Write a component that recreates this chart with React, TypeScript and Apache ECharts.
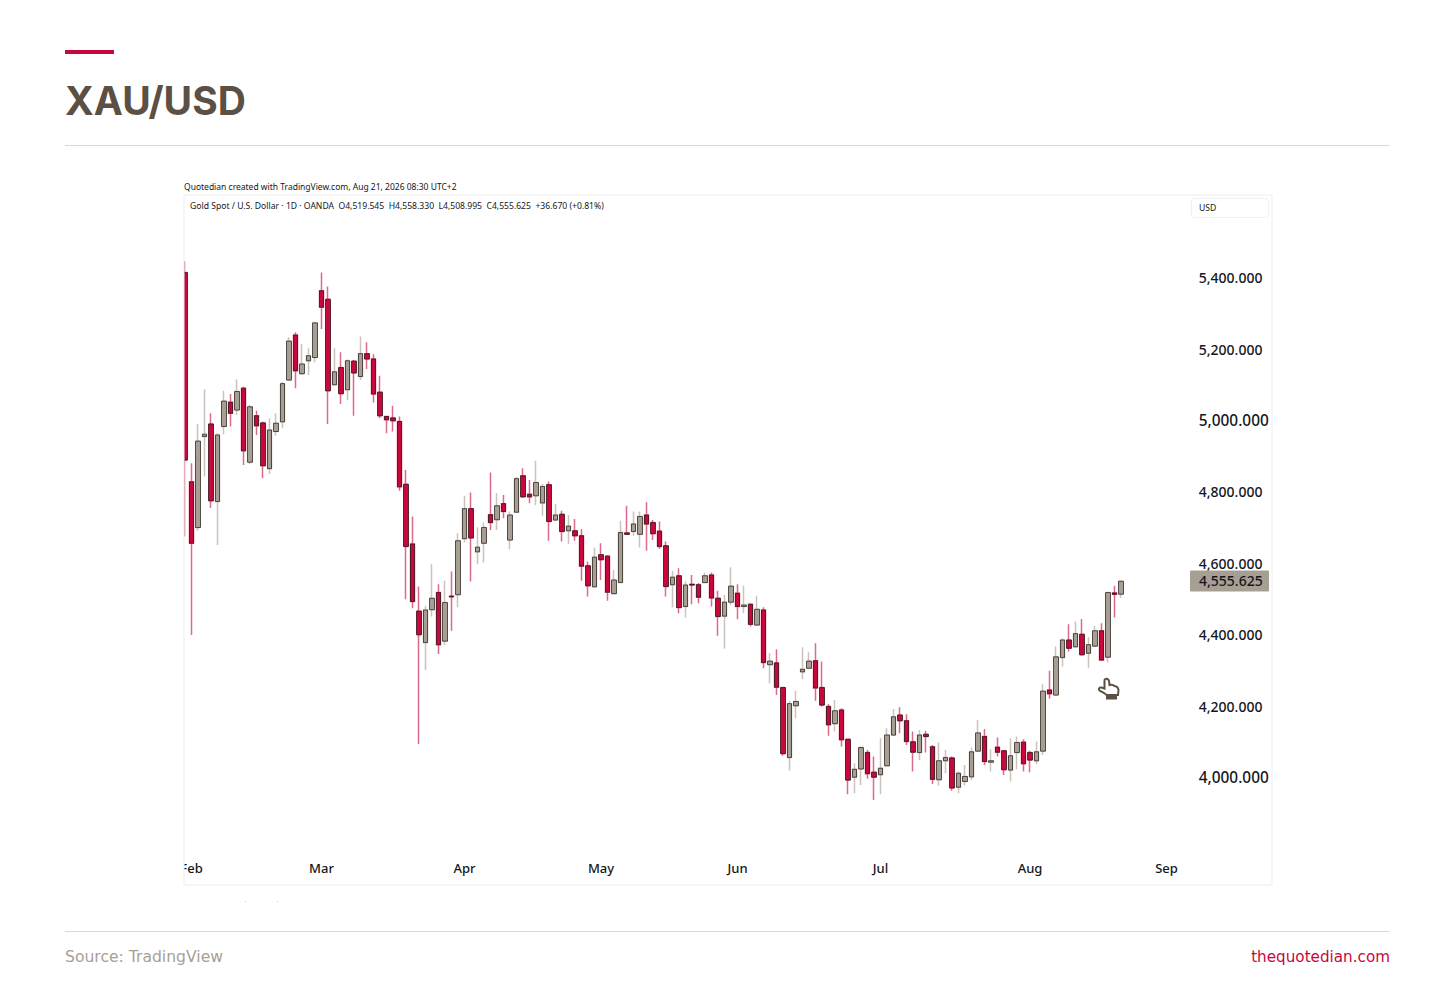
import React, { useEffect, useRef } from "react";
import * as echarts from "echarts";

const categories = [
  "01-30",
  "02-02","02-03","02-04","02-05","02-06","02-09","02-10","02-11","02-12","02-13","02-16","02-17","02-18","02-19","02-20","02-23","02-24","02-25","02-26","02-27",
  "03-02","03-03","03-04","03-05","03-06","03-09","03-10","03-11","03-12","03-13","03-16","03-17","03-18","03-19","03-20","03-23","03-24","03-25","03-26","03-27","03-30","03-31",
  "04-01","04-02","04-06","04-07","04-08","04-09","04-10","04-13","04-14","04-15","04-16","04-17","04-20","04-21","04-22","04-23","04-24","04-27","04-28","04-29","04-30",
  "05-01","05-04","05-05","05-06","05-07","05-08","05-11","05-12","05-13","05-14","05-15","05-18","05-19","05-20","05-21","05-22","05-25","05-26","05-27","05-28","05-29",
  "06-01","06-02","06-03","06-04","06-05","06-08","06-09","06-10","06-11","06-12","06-15","06-16","06-17","06-18","06-19","06-22","06-23","06-24","06-25","06-26","06-29","06-30",
  "07-01","07-02","07-03","07-06","07-07","07-08","07-09","07-10","07-13","07-14","07-15","07-16","07-17","07-20","07-21","07-22","07-23","07-24","07-27","07-28","07-29","07-30","07-31",
  "08-03","08-04","08-05","08-06","08-07","08-10","08-11","08-12","08-13","08-14","08-17","08-18","08-19","08-20","08-21","08-24","08-25","08-26","08-27","08-28","08-31",
  "09-01","09-02","09-03","09-04",
];

const monthLabels: Record<string, string> = {
  "02-02": "Feb", "03-02": "Mar", "04-01": "Apr", "05-01": "May",
  "06-01": "Jun", "07-01": "Jul", "08-03": "Aug", "09-01": "Sep",
};

const priceTicks = [4000, 4200, 4400, 4600, 4800, 5000, 5200, 5400];
const widerTicks = [4000, 5000];

const opens = [
  5420,4834,4706,4961,4996,4779,4989,5057,5035,5096,4889,5019,4999,4871,4975,5002,5119,5245,5137,5173,
  5182,5369,5345,5106,5154,5092,5172,5129,5193,5178,5085,5017,5013,5003,4827,4660,4472,4384,4476,4524,
  4388,4514,4518,4675,4759,4638,4662,4742,4728,4773,4671,4749,4851,4799,4795,4775,4826,4727,4743,4697,
  4697,4683,4599,4540,4630,4626,4521,4552,4691,4695,4687,4741,4720,4696,4655,4546,4571,4485,4547,4546,
  4552,4573,4508,4458,4497,4522,4485,4491,4433,4475,4322,4327,4258,4062,4207,4302,4312,4333,4258,4205,
  4157,4195,4113,4007,4030,4076,4021,4014,4039,4125,4181,4165,4106,4076,4127,4092,4000,4053,4061,3979,
  3995,4008,4080,4121,4049,4091,4081,4027,4076,4105,4076,4053,4080,4251,4237,4342,4391,4372,4407,4354,
  4374,4417,4343,4523,4519.545,
];
const closes = [
  4895,4662,4948,4967,4781,4965,5060,5026,5087,4921,5044,4991,4879,4979,4998,5109,5228,5145,5164,5187,
  5279,5323,5089,5142,5081,5173,5139,5193,5178,5080,5019,5008,5005,4820,4653,4499,4406,4475,4508,4378,
  4496,4512,4669,4759,4677,4651,4706,4720,4767,4751,4741,4843,4792,4792,4832,4821,4723,4741,4695,4710,
  4683,4598,4543,4623,4616,4525,4559,4692,4687,4716,4737,4716,4689,4653,4541,4567,4482,4545,4545,4511,
  4571,4509,4457,4497,4542,4485,4489,4435,4477,4328,4332,4259,4073,4213,4219,4309,4332,4257,4209,4154,
  4193,4112,3999,4029,4090,4017,4007,4032,4125,4176,4165,4107,4077,4125,4121,4001,4053,4062,3977,4018,
  4009,4078,4131,4051,4053,4077,4028,4067,4104,4045,4055,4078,4248,4241,4344,4391,4368,4409,4350,4378,
  4417,4335,4524,4518.955,4555.625,
];
const lows = [
  4682,4405,4697,4849,4761,4657,4967,4989,5021,4881,4884,4965,4844,4856,4963,4984,5117,5096,5133,5133,
  5169,5262,4996,5105,5052,5063,5019,5119,5150,5056,5012,4970,4975,4809,4505,4480,4100,4307,4457,4352,
  4377,4417,4483,4664,4555,4603,4608,4699,4699,4732,4645,4747,4789,4774,4769,4739,4669,4725,4667,4660,
  4669,4557,4513,4538,4559,4501,4520,4551,4685,4683,4650,4641,4671,4647,4513,4482,4466,4454,4491,4494,
  4551,4485,4403,4367,4489,4449,4466,4429,4431,4312,4270,4237,4067,4025,4172,4281,4310,4221,4205,4123,
  4135,4093,3959,3962,3985,4003,3943,3959,4037,4124,4130,4097,4023,4055,4076,3988,3983,4018,3969,3962,
  3983,3999,4078,4041,4023,4065,4013,3995,4029,4023,4021,4044,4069,4227,4235,4317,4359,4370,4347,4312,
  4372,4334,4328,4454,4508.995,
];
const highs = [
  5452,4886,4996,5093,5026,4971,5089,5080,5121,5100,5049,5033,5003,5012,5026,5114,5239,5253,5220,5208,
  5282,5420,5381,5208,5197,5177,5175,5241,5225,5191,5131,5019,5047,5017,4867,4737,4541,4487,4604,4547,
  4557,4583,4690,4795,4804,4707,4720,4860,4802,4797,4751,4848,4872,4839,4893,4828,4835,4772,4753,4741,
  4730,4701,4611,4650,4662,4629,4587,4725,4767,4751,4751,4777,4727,4723,4667,4585,4592,4555,4573,4551,
  4580,4580,4529,4517,4595,4547,4543,4494,4515,4483,4354,4365,4260,4221,4249,4371,4357,4382,4331,4212,
  4223,4200,4115,4046,4093,4083,4065,4116,4144,4198,4203,4183,4135,4139,4137,4097,4105,4083,4065,4023,
  4041,4090,4167,4142,4085,4118,4083,4116,4121,4113,4081,4107,4267,4305,4373,4396,4435,4443,4450,4399,
  4431,4438,4526,4543,4558.33,
];

const RED = "#c8073a";
const TAUPE = "#a89f94";
const BROWN = "#5c5044";
const INK = "#131722";

const HAND = "M6 2C7 0 10 .5 10.5 3L11 7C13 6.5 15 7 16 8C18 8 20 10 20 12L19.5 17L8 17C6 14.5 3 14 1 12.5C-.5 11 1 9 3 9.5L6 10.5Z";

const price = (v: number) => v.toLocaleString("en-US", { minimumFractionDigits: 3, maximumFractionDigits: 3 });

export default function App() {
  const ref = useRef<HTMLDivElement>(null);

  useEffect(() => {
    document.body.style.margin = "0";
    echarts.graphic.registerShape("hand", echarts.graphic.extendPath(HAND, {}));
    const chart = echarts.init(ref.current!, null, { renderer: "svg" });
    const wicks = opens.map((o, i) => [o, closes[i], lows[i], highs[i]]);
    const bodies = opens.map((o, i) => [o, closes[i], Math.min(o, closes[i]), Math.max(o, closes[i])]);
    const labelFont = "'Noto Sans'";
    chart.setOption({
      animation: false,
      backgroundColor: "#ffffff",
      grid: { left: 181.75, width: 1007.5, top: 195, height: 660, containLabel: false },
      xAxis: {
        type: "category",
        data: categories,
        boundaryGap: true,
        axisLine: { show: false },
        axisTick: { show: false },
        splitLine: { show: false },
        axisLabel: {
          interval: (_i: number, v: string) => v in monthLabels,
          formatter: (v: string) => monthLabels[v] ?? "",
          color: INK,
          fontFamily: labelFont,
          fontSize: 13,
          fontWeight: 500,
          margin: 6,
          hideOverlap: false,
        },
      },
      yAxis: {
        type: "value",
        position: "right",
        min: 3789.16,
        max: 5637.16,
        axisLine: { show: false },
        axisTick: { show: false },
        splitLine: { show: false },
        axisLabel: {
          customValues: priceTicks,
          align: "left",
          margin: 9.5,
          padding: [0, 0, 4, 0],
          color: INK,
          fontFamily: labelFont,
          fontSize: 14,
          fontWeight: 500,
          formatter: (v: number) => (widerTicks.includes(v) ? `{wide|${price(v)}}` : price(v)),
          rich: { wide: { fontFamily: labelFont, fontSize: 15.4, fontWeight: 500, color: INK } },
        },
      },
      series: [
        {
          name: "Wicks",
          type: "candlestick",
          data: wicks,
          barWidth: 4,
          itemStyle: {
            color: "rgba(0,0,0,0)",
            color0: "rgba(0,0,0,0)",
            borderColor: "#c9c4bd",
            borderColor0: "#dc6a8a",
            borderWidth: 1.5,
          },
        },
        {
          name: "XAU/USD",
          type: "candlestick",
          data: bodies,
          barWidth: 4.6,
          itemStyle: {
            color: TAUPE,
            color0: RED,
            borderColor: "#332b26",
            borderColor0: "#33141c",
            borderWidth: 0.8,
          },
        },
      ],
      graphic: [
        { type: "rect", z: 50, shape: { x: 170, y: 195, width: 14, height: 690 }, style: { fill: "#ffffff" } },
        { type: "rect", z: 51, shape: { x: 184, y: 195, width: 1088, height: 690 }, style: { fill: "none", stroke: "#efefef", lineWidth: 1 } },
        { type: "rect", z: 52, shape: { x: 65, y: 50, width: 49, height: 4 }, style: { fill: RED } },
        { type: "text", z: 52, x: 65, y: 100, style: { text: "XAU/USD", fill: BROWN, font: "700 39px Inter", verticalAlign: "middle" } },
        { type: "line", z: 52, shape: { x1: 65, y1: 145.5, x2: 1390, y2: 145.5 }, style: { stroke: "#d9d9d9", lineWidth: 1 } },
        { type: "line", z: 52, shape: { x1: 65, y1: 931.5, x2: 1390, y2: 931.5 }, style: { stroke: "#d9d9d9", lineWidth: 1 } },
        { type: "text", z: 52, x: 184, y: 186, style: { text: "Quotedian created with TradingView.com, Aug 21, 2026 08:30 UTC+2", fill: INK, font: "8.5px 'Noto Sans'", verticalAlign: "middle" } },
        { type: "text", z: 52, x: 190, y: 206, style: { text: "Gold Spot / U.S. Dollar · 1D · OANDA  O4,519.545  H4,558.330  L4,508.995  C4,555.625  +36.670 (+0.81%)", fill: INK, font: "8.6px 'Noto Sans'", verticalAlign: "middle" } },
        { type: "rect", z: 52, shape: { x: 1191.5, y: 198.5, width: 77, height: 19, r: 3 }, style: { fill: "#ffffff", stroke: "#f0f0f0", lineWidth: 1 } },
        { type: "text", z: 53, x: 1199, y: 208, style: { text: "USD", fill: INK, font: "8.6px 'Noto Sans'", verticalAlign: "middle" } },
        { type: "rect", z: 52, shape: { x: 1190, y: 570.5, width: 79, height: 21, r: 1 }, style: { fill: TAUPE } },
        { type: "text", z: 53, x: 1199, y: 580, style: { text: "4,555.625", fill: INK, font: "500 14px 'Noto Sans'", verticalAlign: "middle" } },
        { type: "hand", z: 54, x: 1098.5, y: 678, style: { fill: "#ffffff", stroke: BROWN, lineWidth: 2 } },
        { type: "rect", z: 54, shape: { x: 1106, y: 695, width: 11, height: 4.5 }, style: { fill: BROWN } },
        { type: "rect", z: 52, shape: { x: 245, y: 901, width: 1, height: 1 }, style: { fill: "#cfcfcf" } },
        { type: "rect", z: 52, shape: { x: 277, y: 901, width: 1, height: 1 }, style: { fill: "#cfcfcf" } },
        { type: "text", z: 52, x: 65, y: 957, style: { text: "Source: TradingView", fill: TAUPE, font: "15.6px 'DejaVu Sans'", verticalAlign: "middle" } },
        { type: "text", z: 52, x: 1390, y: 957, style: { text: "thequotedian.com", fill: RED, font: "15.2px 'DejaVu Sans'", align: "right", verticalAlign: "middle" } },
      ],
    });
    return () => chart.dispose();
  }, []);

  return <div ref={ref} style={{ position: "absolute", left: 0, top: 0, width: 1456, height: 990 }} />;
}
